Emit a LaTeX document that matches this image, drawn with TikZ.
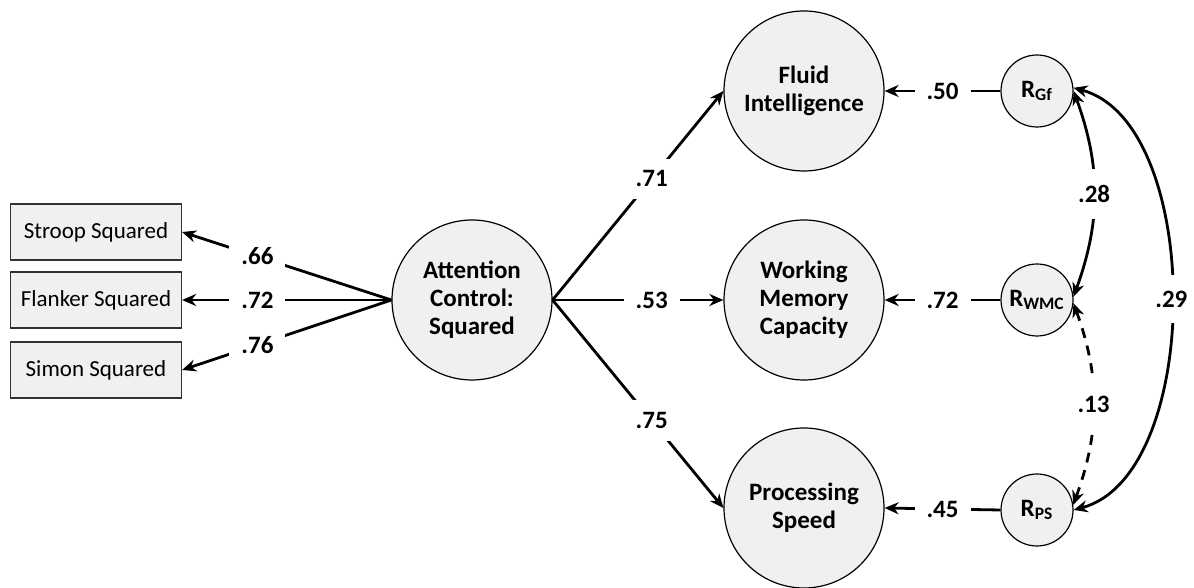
\documentclass[tikz,border=0pt]{standalone}
\usepackage{fontspec}
\setmainfont{Carlito}
\usetikzlibrary{arrows.meta}
\definecolor{shapefill}{RGB}{240,240,240}
\begin{document}
\begin{tikzpicture}[x=0.5pt,y=0.5pt,
    font=\fontsize{12.5}{14}\selectfont,
    latent/.style={circle,draw,line width=0.6pt,fill=shapefill,minimum size=80pt,inner sep=0pt,align=center,font=\fontsize{12.5}{14}\selectfont\bfseries},
    resid/.style={circle,draw,line width=0.6pt,fill=shapefill,minimum size=36pt,inner sep=0pt,font=\fontsize{12.5}{14}\selectfont\bfseries},
    indicator/.style={rectangle,draw=black!80,line width=0.6pt,fill=shapefill,minimum width=85.5pt,minimum height=28pt,font=\fontsize{11.5}{14}\selectfont},
    arr/.style={line width=1.4pt,-{Stealth[length=7pt,width=6pt]}},
    dbl/.style={line width=1.4pt,{Stealth[length=7pt,width=6pt]}-{Stealth[length=7pt,width=6pt]}},
    coef/.style={fill=white,inner sep=6pt,font=\fontsize{12.5}{14}\selectfont\bfseries}]
    \useasboundingbox (0,0) rectangle (1194,588);

    % Observed indicators
    \node[indicator] (stroop) at (96,356) {Stroop Squared};
    \node[indicator] (flanker) at (96,288) {Flanker Squared};
    \node[indicator] (simon) at (96,218) {Simon Squared};

    % Latent factors
    \node[latent] (attn) at (472,288) {Attention\\Control:\\Squared};
    \node[latent] (gf) at (804,497) {Fluid\\Intelligence};
    \node[latent] (wmc) at (804,288) {Working\\Memory\\Capacity};
    \node[latent] (ps) at (804,80) {Processing\\Speed};

    % Residuals
    \node[resid] (rgf) at (1037,497) {R\textsubscript{Gf}};
    \node[resid] (rwmc) at (1037,288) {R\textsubscript{WMC}};
    \node[resid] (rps) at (1037,78) {R\textsubscript{PS}};

    % Loadings
    \draw[arr] (attn.west) -- node[coef,pos=0.64] {.66} (stroop.east);
    \draw[arr] (attn.west) -- node[coef,pos=0.64] {.72} (flanker.east);
    \draw[arr] (attn.west) -- node[coef,pos=0.64] {.76} (simon.east);

    % Structural paths
    \draw[arr] (attn.east) -- node[coef,pos=0.58] {.71} (gf.west);
    \draw[arr] (attn.east) -- node[coef,pos=0.58] {.53} (wmc.west);
    \draw[arr] (attn.east) -- node[coef,pos=0.58] {.75} (ps.west);

    % Residual paths
    \draw[arr] (rgf.west) -- node[coef] {.50} (gf.east);
    \draw[arr] (rwmc.west) -- node[coef] {.72} (wmc.east);
    \draw[arr] (rps.west) -- node[coef] {.45} (ps.east);

    % Residual covariances
    \draw[dbl] (rgf.east) to[out=-70,in=70] node[coef,inner ysep=8pt] {.28} (rwmc.5);
    \draw[dbl] (rgf.5) to[out=-15,in=15,looseness=0.82] node[coef,inner ysep=8pt] {.29} (rps.east);
    \draw[dbl,dash pattern=on 5pt off 4pt] (rwmc.-5) to[out=-70,in=70] node[coef,inner ysep=8pt] {.13} (rps.8);
\end{tikzpicture}
\end{document}
